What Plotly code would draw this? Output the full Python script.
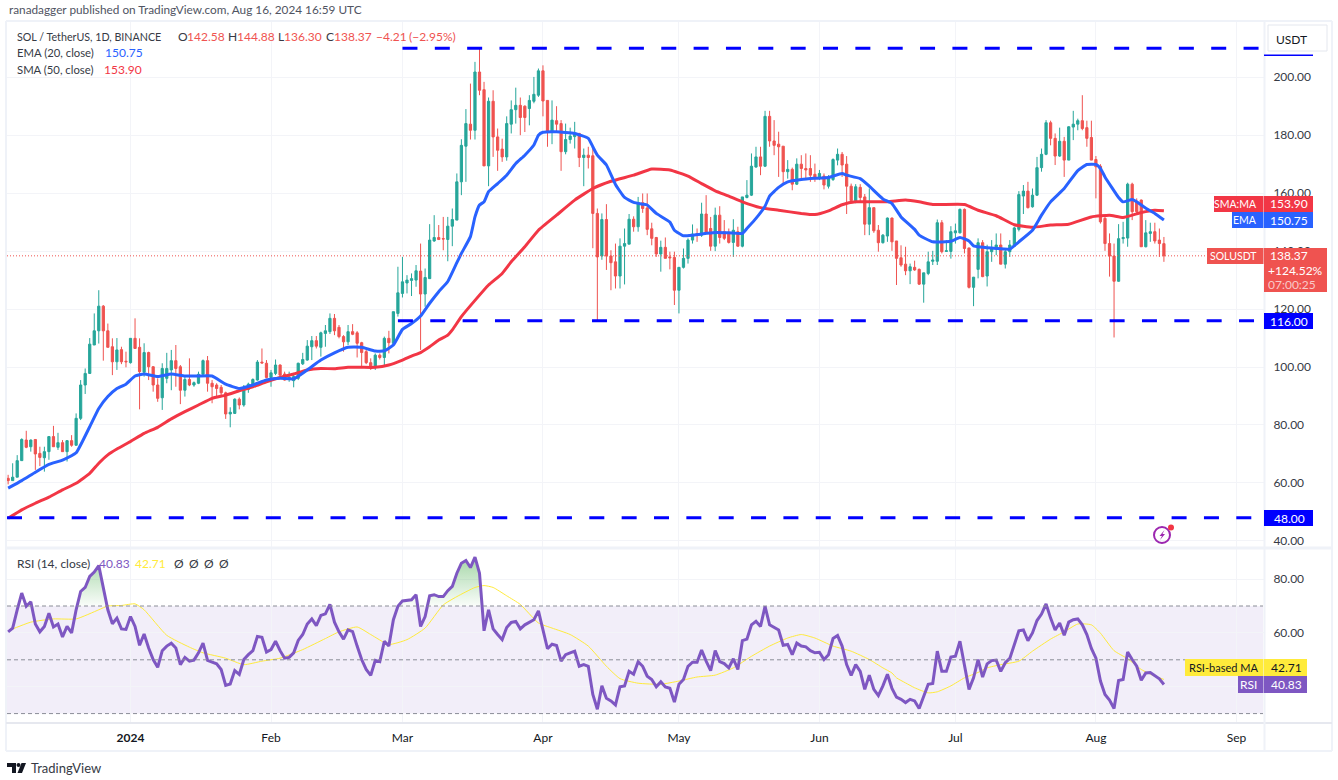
import pandas as pd
import plotly.graph_objects as go

W, H = 1338, 780
GREEN, RED = "#26a69a", "#ef5350"
BLUE, SMA_RED = "#2962ff", "#f23645"
PURPLE, YELLOW = "#7e57c2", "#ffeb3b"
LEVEL_BLUE = "#0000ff"
FONT = "Lato"

dates = pd.date_range("2023-12-05", "2024-08-16", freq="D")

opens = [61.6,60.8,62,67.7,74.8,72.5,75,70.2,68.7,70.8,
    76,72.3,73.9,70.8,74.6,73,82.3,93.8,97.8,107.6,
    112.5,121,112.5,107,101.8,106,102,101.5,109.9,106.8,
    98.2,105,100.1,93.8,89.4,96.1,99,102.2,100.1,92,
    95.7,93.8,94.4,97.5,102.2,94.4,93.8,93,91.1,83.8,
    84,88.9,86.9,92.3,93.8,95.5,101.7,101.3,96.4,97.8,
    100.7,97.6,96.1,95.3,96.1,101.1,102.4,107,109.1,106.8,
    111.6,112.2,116.8,113.7,110.5,108.7,112.2,111.8,108.4,105.3,
    101.5,99.9,104.1,103.3,109.9,108.2,118.5,125.4,129,129.9,
    130,133.1,125.2,130.5,143.5,144.7,144.3,144,148.6,150.7,
    163.9,176.2,183.8,181.7,201.8,195.7,169.4,191.7,179.4,175.2,
    172.5,183.8,188.8,190.3,190,189.2,191.7,193.8,202.2,192,
    181.1,185,184,174.3,178.5,179.5,180.6,172.3,173.1,172.9,
    153,138.3,150.9,138.3,136.3,131.4,141.7,142.4,151,148.4,
    156.7,154.9,147.7,144.7,139,141.3,138,137.8,126.5,134.4,
    137.5,143.8,146,145.5,152.8,147.8,141.7,152.4,146.7,146.3,
    143,146.7,141.7,158.5,159.3,169,172.5,169.3,186.5,178,
    176.9,176.2,167.4,168.2,163.1,170,168.5,168.5,166.5,165.4,
    165.9,162.4,164.7,171.4,173.4,170,162.4,157.4,162,158.7,
    149.3,155,147.2,142.9,145.2,151.4,143.5,137.7,135.5,133.2,
    134.4,133.7,128.6,132.3,136.5,136.5,149.8,139.9,139.9,146.3,
    146.3,154.4,141.1,127.5,133.7,142.9,131.4,139.8,141,142.1,
    135.5,139.8,141.7,147.5,159,160.7,155.3,159.3,168.8,173.4,
    184.3,178.9,172.8,177.9,171.4,182.8,183.8,185,182.6,179.2,
    171.6,169.3,151.3,142.6,138.3,129.6,144.3,144.5,163.1,157,
    157.6,141.5,146.1,146.7,143.8,142.58]
closes = [60.8,62,67.7,75,72.3,74.8,70,68.8,70.8,76,
    72.5,73.9,70.8,74.6,73,82.3,93.8,97.8,107.9,112.5,
    121,112.5,106.8,101.8,105.9,101.8,101.8,109.9,106.4,98.4,
    105,100.1,93.8,89.2,99.5,99.5,102.2,99.5,92,95.7,
    93.8,94.6,97.5,102.2,94.4,93.2,92.6,91.1,83.8,84.4,
    88.9,86.9,92.3,94.1,95.7,101.7,101.4,96.4,98,100.7,
    97.2,95.5,96.4,96.7,101.3,102.6,107.2,109.1,107.2,111.8,
    112.5,116.8,112.5,110.5,108.7,112.2,111.3,108.2,105,101.5,
    99.9,104.1,103.3,109.9,108.4,119.1,125.6,129.4,130,130.5,
    133.2,125.2,130.9,143.8,144.7,144,144.2,148.6,150.9,163.9,
    176.5,184,181.7,201.8,195.5,169.4,191.7,179.4,174.8,172.5,
    184,188.8,190.3,186.1,186.1,192,194.1,202.2,191.8,181,
    185.2,183.8,174.3,178.5,179.7,180.6,172.3,173.1,172.3,153,
    138,150.9,138.3,136,131.4,141.7,142.6,151,148.4,156.7,
    154.7,147.5,144.4,139,141.3,137.5,137.7,126.5,134.4,137.5,
    143.8,145.9,145.5,152.8,146.3,141.7,152.4,144.7,144.4,143,
    147.2,141.7,158.7,159.3,169.3,172.5,169.3,186.5,178,176.5,
    176,167.4,168.2,163.1,170,168.5,168,166.2,165,166.8,
    162.8,165,171.6,173.4,169.7,162.4,157.4,162.2,158.5,149.3,
    155,147,142.9,145.5,151.4,143.2,137.5,135.2,133.2,134.6,
    133.5,128.6,132.5,136.3,136.9,149.8,139.8,140.1,146.7,147,
    154.4,140.9,127.5,131,142.9,131.2,139.8,141.1,142.1,135.5,
    139.8,142.1,148,159.5,160.7,155,159.3,168.8,173.4,184.3,
    178.9,172.8,177.9,171.4,182.9,183.8,185,182.3,178.9,171.4,
    169.1,150.1,142.6,138.3,129.6,144.3,144.7,163.1,153.6,153.6,
    141.5,146.3,146.7,143.5,142.6,138.37]
highs = [62.8,66.8,69.6,75.4,78,75,75,72.5,72.5,76.2,
    79.7,77.3,74.8,74.8,76.5,84,95.5,99.5,110,118.5,
    126.5,121.4,115,109.9,110,107,105.3,109.9,116.8,109.9,
    108.2,105.3,100.3,96.1,101.3,104.9,105.9,107.6,100.7,96.7,
    103,95,98.4,102.6,103.8,95.5,94.4,93.8,91.5,86.1,
    89.2,89.5,93.8,94.6,96.1,102.4,106.4,102.4,99,102.6,
    100.9,98.4,98.4,97.8,101.5,104.9,109.3,110.7,110.7,112.2,
    114.5,118.5,118.3,114.5,111,114.5,114.8,112.4,108.7,106.8,
    103,104.7,104.7,110.5,112.5,119.1,134.6,138,131.7,132.3,
    135.2,142.6,134,149.3,152.4,149,151.8,151.8,154.7,166.8,
    178.6,189,197.8,205.3,209.9,198.4,193,195.5,182.3,178.8,
    186.5,192,196.4,193,190.3,193.8,200.1,203,204.1,192,
    192,190,185.2,184,182.6,184.6,180.8,175.4,176,175.7,
    154.7,153,156.2,140.3,142.6,144.4,147.8,152.8,152,158.7,
    159.9,159.9,149.8,144.9,143.6,144.7,139.8,139.8,134.4,140.9,
    144.4,149.2,147.8,156.7,159.3,151.8,155,155.5,150.7,147.8,
    151,148.4,158.7,164.5,173.7,176,176,188.4,188.4,185.2,
    181.2,176.2,171.4,168.8,172,173.1,173.7,173.1,170.2,168,
    166.8,166.2,172,175.4,174.2,172.8,163.3,163.1,163.1,159.7,
    161.6,155,149,145.9,151.6,151.6,143.5,142,141.5,135.7,
    136.7,134,132.5,139.8,140.1,150.9,150.7,143.8,148.6,149.5,
    154.7,154.7,141.1,131.1,144.4,143.8,142.2,143.8,146.1,146.1,
    141,143.8,148.4,160.7,162.8,163.9,161.6,172.5,175.4,185.2,
    185,180.6,182.6,179.4,183.1,188.4,185.7,193.8,185,185,
    172.8,170,152.4,146.1,142.6,149.3,150.1,163.6,163.6,158.2,
    157.8,150.7,149.8,149.8,147.8,144.88]
lows = [59.5,60.8,62,67.7,72,70.8,64.5,65.8,63.9,68,
    72.5,71.4,70.8,67.4,72.5,72.9,81.7,90.7,97.6,108,
    108.1,102.2,106.8,97.2,99,101,99.9,101.2,106.4,85.4,
    96.7,95.5,91.5,88,85.2,94.4,92,93.2,87.2,89.8,
    93.4,93.2,94.1,97.2,91.5,87.5,90,90.3,82.1,79.2,
    83.8,85.4,86.3,91.1,93.2,95.3,101.3,96.1,93.2,97.2,
    96.7,95.3,94.9,93,95.5,100.7,102.2,102.4,106.4,103.6,
    107,111.4,111,109.9,105.3,107.6,111,103.3,100.1,101,
    99,99,102.6,100.3,104.7,107.6,117.4,124,125.4,124.5,
    127.7,105.9,120.8,130.5,143.2,143.8,140.3,136.5,141.7,150.7,
    159.3,163.9,178.5,178.5,193.8,169.4,162.4,172.5,167.7,170.8,
    171.2,180.6,184,180,181.1,183.4,191,193.2,186.5,176,
    176.9,180.8,167.7,173.4,177.1,175.4,169,162.4,168.5,141,
    116.2,137,133.5,126.5,127.1,127.1,128.5,142.4,146.7,146.7,
    153.2,145.5,142,138,132.9,137.5,133.7,121.4,118.5,134,
    135.7,142.6,143.2,144.9,146.1,140.1,140,142.6,143.8,142.6,
    138,141.5,141.3,158.2,159,168.8,166.2,169,176,173.1,
    165.6,163.3,165,161,162.8,164.5,165,163.9,163.9,164.5,
    161.3,161.6,164.2,169.6,165.6,152.8,156.7,156.5,157,145.5,
    145.5,146.3,139.8,142.6,143.2,140.1,128.3,134.6,131.7,128.6,
    133.2,128.3,122.2,131.7,135.2,135.2,139.2,139.8,137.4,142.6,
    146.1,139.2,127.1,121,130.6,131,127.8,136.3,138.6,135.5,
    134,138,141.5,146.8,152.8,154.7,155,159,167.4,173.1,
    176.5,169.7,172.5,165.6,171.4,178.3,181.7,181.7,176,171.4,
    158.2,149.5,140.1,131.2,110.2,129.4,142.6,141.5,150.7,153,
    141.5,141.3,143.2,142.6,138,136.3]

# moving averages read at every few days (day number counted from the first candle)
ema_days = [0,3,6,9,12,15,18,20,22,24,26,28,30,33,36,39,42,45,48,51,54,57,60,63,66,69,72,75,78,81,83,85,87,89,91,93,95,97,99,100,102,103,104,105,106,108,110,112,114,116,117,118,121,125,128,129,130,132,134,136,138,140,141,143,146,147,149,151,153,156,159,162,163,165,167,168,170,172,175,178,181,184,185,188,190,193,195,197,200,201,204,208,210,212,213,218,221,223,226,228,230,233,236,238,240,241,242,245,246,248,249,251,253,255]
ema_vals = [58.2,60.8,63.7,66.4,67.9,70.4,79.4,85.7,89.8,92.6,94.1,96.9,97.6,96.7,97.6,96.9,96.9,96.9,94.1,92.6,93.8,95.5,96.1,95.9,99,102.4,104.9,106.8,106.8,105.5,105.6,107.6,113,115,117.6,122,126,129.5,136,139.2,145,151.8,155.9,157,160.5,163.3,166.2,170.2,173.1,176.6,180,181,181.2,180.6,178.9,176,173.1,169.7,163,158.5,156.8,156.2,155.9,153,150,147.2,145.3,145.5,145.9,146.4,146.3,146.1,147.8,151.3,155.5,159,162,163.9,164.7,165.1,165.4,166.8,166.2,165,162.4,158,156.4,151.8,147.5,145.5,143.2,143.4,144.7,143.5,141.8,140.9,140.7,143.2,147.2,152.4,157,161.6,167.8,169.9,169.9,168.5,165.6,158.5,157,157.8,157,154.8,153,150.75]
sma_days = [0,3,6,9,12,15,18,20,22,24,27,30,33,36,39,42,45,48,51,54,57,60,63,66,69,72,75,78,81,84,87,89,91,93,95,97,98,100,103,106,109,111,114,117,121,125,129,133,138,142,146,150,153,156,159,162,166,170,175,178,181,184,187,194,198,201,204,211,214,218,222,226,230,234,239,243,246,250,253,255]
sma_vals = [47.8,50.7,53,55.1,57.6,59.9,63.3,66.8,69.7,71.7,74.3,77.1,79.2,82.1,84.6,86.9,89.2,90.3,91.8,93.2,94.9,96.4,97.6,99,99.5,99.4,99.9,99.9,99.9,100.7,102.4,103.8,105,107,109.3,111,112.8,117.4,123,128.3,132.3,136.3,141.5,147.2,152.4,157.6,161.6,164.1,166.2,168.3,168,165.9,163.3,160.8,159,157,155,154.1,153,152.6,153.9,156,157,157,157.6,157,156.1,156.1,154.1,152.2,149.1,148.2,149,149.3,151.8,152.4,151.6,153.3,154.1,153.9]

rsi_vals = [60.4,61.8,68.6,74.8,69.9,71.6,63.3,60.4,62.4,67.3,
    62.2,63.3,58.5,62.4,60,68.6,75.4,76.9,81,82.6,
    85,76.1,68.6,63.4,65.5,61.5,61.3,66.1,62.4,55.4,
    59.6,54.4,50.1,47.2,53.4,55.1,56.2,54.4,48.2,50.9,
    49.5,49.9,52.6,56.2,49.8,49.1,48.5,46.4,40.5,41,
    46,44.6,50.1,51.9,53.4,58.7,58.4,52.9,53.8,56.9,
    53.4,50.6,50.9,52.6,57.2,59.4,63.3,65.2,62.7,66.5,
    67.1,70.6,64,60.4,57.7,61.1,60.5,55.1,50.1,46.4,
    44.2,49.8,49.3,56.9,55.1,64.9,69.9,71.9,72.2,72.3,
    74.2,62.4,66.1,73.8,74.2,73.5,73.5,75.7,77.3,82.2,
    85.9,86.9,84.3,88.2,82.2,60.8,68.6,61.5,59.4,57.5,
    62,63.9,64.3,61.5,63,64,64.9,68.2,61.1,54.1,
    55.8,55.3,49.5,51.9,52.6,53.2,47.6,48.2,47.6,37.1,
    31.6,40.3,35.7,34.7,33.2,40,40.3,45.7,44.6,49.3,
    47.6,43.9,42.7,40,41.8,39.9,39.4,34.3,40.9,42.7,
    47.6,49.1,49.1,53.6,49.5,46,53.4,49.3,48.6,47,
    50.4,46.4,57.1,57.7,63,64.3,62.4,69.9,63,62,
    61.1,55.4,55.7,51.9,56.2,55.1,54.8,53.4,52.6,52.8,
    50.1,51.9,57.9,59,55.1,48.2,44.2,48.2,45.7,39,
    44.3,39,36.7,40.3,44.6,39.4,36.1,35.3,34.1,35.3,
    34.7,31.9,36.5,40.9,41.2,53.2,45.7,45.7,51,51.3,
    56.9,48.2,39,43.3,50.1,43.6,48.5,49.7,49.9,45.7,
    48.9,50.5,55.7,60.8,61.1,57.1,60,64.6,67,70.8,
    65.5,61.1,63.7,59.1,64,64.9,65.2,63,59.4,54.2,
    50.6,42.1,37.1,35,31.9,42.3,42.7,52.9,50.1,47.6,
    42.4,45.1,45.3,44.2,42.9,40.83]
rsi_ma_days = [0,5,10,15,20,22,25,28,30,35,40,43,48,52,56,60,65,70,73,77,80,84,88,92,96,99,103,105,107,110,113,117,120,124,128,132,135,139,144,148,152,156,160,164,168,172,175,178,182,186,190,193,195,196,198,200,203,205,208,211,214,216,219,223,226,230,233,236,239,241,244,247,250,253,255]
rsi_ma_vals = [60.8,64,65.2,65.2,68.6,70,70.2,70.8,68.6,59.1,54.7,52.6,50.6,48.2,49.5,50.6,53.8,57.9,60.4,62.2,59.4,55.7,57.5,61.8,70.4,73.5,76.9,77.6,76.9,73.8,70.6,63.7,61.8,59.4,55.1,47.6,43,41.3,40.9,42.1,43.6,44.3,47,51.3,55.1,58.1,59.4,58.1,55.1,53.2,50.1,47,45.1,43.3,41.4,39.6,37.7,38.1,40.3,43.3,45.3,47,48.2,49.5,53.2,57.7,60.4,63.3,63,59.9,53.4,50.4,46.4,43.9,42.71]

levels = [210, 116, 48]
level_starts = ["2024-03-01", "2024-02-29", "2023-12-04 18:00"]
last_close = 138.37
price_ticks = [40, 60, 80, 100, 120, 140, 160, 180, 200]
rsi_ticks = [40, 60, 80]
month_ticks = ["2024-01-01", "2024-02-01", "2024-03-01", "2024-04-01", "2024-05-01",
               "2024-06-01", "2024-07-01", "2024-08-01", "2024-09-01"]
month_labels = ["<b>2024</b>", "Feb", "Mar", "Apr", "May", "Jun", "Jul", "Aug", "Sep"]
x_range = ["2023-12-04 18:00", "2024-09-07 02:00"]


def px(x):
    return x / W


def py(y):
    return 1 - y / H


def pick(days):
    return [dates[d] for d in days]


fig = go.Figure()
fig.add_trace(go.Candlestick(
    x=dates, open=opens, high=highs, low=lows, close=closes,
    increasing=dict(line=dict(color=GREEN, width=1), fillcolor=GREEN),
    decreasing=dict(line=dict(color=RED, width=1), fillcolor=RED),
    whiskerwidth=0, showlegend=False, hoverinfo="skip", xaxis="x", yaxis="y"))
fig.add_trace(go.Scatter(x=pick(sma_days), y=sma_vals, mode="lines",
                         line=dict(color=SMA_RED, width=3, shape="spline", smoothing=0.4),
                         showlegend=False, xaxis="x", yaxis="y"))
fig.add_trace(go.Scatter(x=pick(ema_days), y=ema_vals, mode="lines",
                         line=dict(color=BLUE, width=3, shape="spline", smoothing=0.4),
                         showlegend=False, xaxis="x", yaxis="y"))
for lvl, start in zip(levels, level_starts):
    fig.add_trace(go.Scatter(x=[start, x_range[1]], y=[lvl, lvl], mode="lines",
                             line=dict(color=LEVEL_BLUE, width=3, dash="15px,17.35px"),
                             showlegend=False, xaxis="x", yaxis="y"))
fig.add_trace(go.Scatter(x=x_range, y=[last_close, last_close], mode="lines",
                         line=dict(color=RED, width=1, dash="1px,2px"),
                         showlegend=False, xaxis="x", yaxis="y"))

# green overbought zones above the 70 line
for a, b in [(16, 22), (86, 91), (93, 105)]:
    fig.add_trace(go.Scatter(
        x=pick([a - 1] + list(range(a, b)) + [b]),
        y=[70] + rsi_vals[a:b] + [70], mode="lines", fill="toself",
        line=dict(width=0),
        fillgradient=dict(type="vertical", start=70, stop=88,
                          colorscale=[[0, "rgba(76,175,80,0.03)"], [1, "rgba(76,175,80,0.5)"]]),
        showlegend=False, xaxis="x", yaxis="y2"))
fig.add_trace(go.Scatter(x=pick(rsi_ma_days), y=rsi_ma_vals, mode="lines",
                         line=dict(color=YELLOW, width=1, shape="spline", smoothing=0.5),
                         showlegend=False, xaxis="x", yaxis="y2"))
fig.add_trace(go.Scatter(x=dates, y=rsi_vals, mode="lines",
                         line=dict(color=PURPLE, width=3),
                         showlegend=False, xaxis="x", yaxis="y2"))

shapes = []


def box(x0, y0, x1, y1, color):
    shapes.append(dict(type="rect", xref="paper", yref="paper", x0=px(x0), x1=px(x1),
                       y0=py(y1), y1=py(y0), fillcolor=color, line_width=0, layer="above"))


def rule(x0, y0, x1, y1, color, width):
    shapes.append(dict(type="line", xref="paper", yref="paper", x0=px(x0), x1=px(x1),
                       y0=py(y0), y1=py(y1), line=dict(color=color, width=width), layer="above"))


def pixel_path(points, color):
    d = "M" + " L".join(f"{px(a):.5f},{py(b):.5f}" for a, b in points) + " Z"
    shapes.append(dict(type="path", xref="paper", yref="paper", path=d,
                       fillcolor=color, line_width=0, layer="above"))


def circle(cx, cy, r, fill, line_color=None, line_width=0):
    shapes.append(dict(type="circle", xref="paper", yref="paper",
                       x0=px(cx - r), x1=px(cx + r), y0=py(cy + r), y1=py(cy - r),
                       fillcolor=fill, line=dict(color=line_color or fill, width=line_width),
                       layer="above"))


# rsi band and its dashed limits
shapes.append(dict(type="rect", xref="paper", yref="y2", x0=px(7), x1=px(1263), y0=30, y1=70,
                   fillcolor="rgba(126,87,194,0.1)", line_width=0, layer="below"))
for lim in [70, 50, 30]:
    shapes.append(dict(type="line", xref="paper", yref="y2", x0=px(7), x1=px(1263), y0=lim, y1=lim,
                       line=dict(color="#8a8d97", width=1, dash="4px,3px"), layer="above"))

# frame
FRAME = "#eff2f8"
rule(6, 21, 1332, 21, FRAME, 2)
rule(6, 751, 1332, 751, FRAME, 2)
rule(6, 21, 6, 751, FRAME, 2)
rule(1332, 21, 1332, 751, FRAME, 2)
rule(6, 548, 1332, 548, FRAME, 3)
rule(6, 723, 1332, 723, "#e6e8ef", 2)
rule(1264.5, 21, 1264.5, 751, FRAME, 2)

# usdt button
shapes.append(dict(type="rect", xref="paper", yref="paper", x0=px(1268), x1=px(1327),
                   y0=py(51), y1=py(25), fillcolor="white",
                   line=dict(color="#e4e7ee", width=1), layer="above"))
box(1264, 54.5, 1313, 56, LEVEL_BLUE)

# price scale labels
box(1214, 196, 1263.5, 212, SMA_RED)
box(1264, 196, 1313, 212, SMA_RED)
box(1232, 212, 1263.5, 228, BLUE)
box(1264, 212, 1313, 228, BLUE)
box(1207, 248, 1263.5, 264, RED)
box(1264, 248, 1327, 292, RED)
box(1264, 313, 1313, 329, LEVEL_BLUE)
box(1264, 510, 1313, 526, LEVEL_BLUE)
box(1185, 659, 1263.5, 676, YELLOW)
box(1264, 659, 1307, 676, YELLOW)
box(1238, 676, 1263.5, 693, PURPLE)
box(1264, 676, 1307, 693, PURPLE)

# lightning badge
circle(1162, 535, 8, "rgba(0,0,0,0)", "#9c27b0", 2)
pixel_path([(1164.5, 530), (1159.5, 536), (1162, 536), (1160, 540), (1165, 534), (1162.5, 534)], "#9c27b0")
circle(1171, 527.5, 3, SMA_RED)

# tradingview logo
pixel_path([(7, 763), (16, 763), (16, 773), (12, 773), (12, 767), (7, 767)], "#131722")
circle(18.5, 765, 2, "#131722")
pixel_path([(26, 763), (22, 773), (17.5, 773), (21.5, 763)], "#131722")


def label(x, y, text, color="#363a45", size=12, anchor="left"):
    return dict(xref="paper", yref="paper", x=px(x), y=py(y), text=text, showarrow=False,
                xanchor=anchor, yanchor="middle", align=anchor,
                font=dict(family=FONT, size=size, color=color))


annotations = [
    label(7, 10, "ranadagger published on TradingView.com, Aug 16, 2024 16:59 UTC", "#505462", size=11.8),
    label(15, 36, "SOL / TetherUS, 1D, BINANCE", size=10.7),
    label(176, 36, "O"), label(185, 36, "142.58", RED),
    label(226, 36, "H"), label(235, 36, "144.88", RED),
    label(276, 36, "L"), label(282, 36, "136.30", RED),
    label(324, 36, "C"), label(332, 36, "138.37", RED),
    label(374, 36, "\u22124.21", RED), label(407, 36, "(\u22122.95%)", RED),
    label(15, 53, "EMA (20, close)", size=11.3), label(103, 53, "150.75", BLUE),
    label(15, 69, "SMA (50, close)", size=11.3), label(102, 69, "153.90", SMA_RED),
    label(15, 563, "RSI (14, close)"), label(97, 563, "40.83", PURPLE), label(133, 563, "42.71", YELLOW),
    label(172, 563, "\u00d8"), label(187, 563, "\u00d8"), label(202, 563, "\u00d8"), label(217, 563, "\u00d8"),
    label(1291, 39, "USDT", "#131722", anchor="center"),
    label(1259, 204, "SMA:MA", "white", size=10.5, anchor="right"), label(1289, 204, "153.90", "white", anchor="center"),
    label(1259, 220, "EMA", "white", size=10.5, anchor="right"), label(1289, 220, "150.75", "white", anchor="center"),
    label(1259, 256, "SOLUSDT", "white", size=10.5, anchor="right"), label(1289, 256, "138.37", "white", anchor="center"),
    label(1295, 270, "+124.52%", "white", anchor="center"),
    label(1292, 284, "07:00:25", "#f9c9c8", anchor="center"),
    label(1289, 321, "116.00", "white", anchor="center"),
    label(1289, 518, "48.00", "white", anchor="center"),
    label(1260, 667.5, "RSI-based MA", "#131722", size=11, anchor="right"),
    label(1286, 667.5, "42.71", "#131722", anchor="center"),
    label(1259, 684.5, "RSI", "white", anchor="right"),
    label(1286, 684.5, "40.83", "white", anchor="center"),
    label(29, 768, "TradingView", "#363a45", size=13),
]

GRID = "#f3f4f8"
fig.update_layout(
    width=W, height=H, margin=dict(l=0, r=0, t=0, b=0, pad=0),
    paper_bgcolor="white", plot_bgcolor="white", showlegend=False,
    font=dict(family=FONT, size=12, color="#363a45"),
    shapes=shapes, annotations=annotations,
    xaxis=dict(domain=[px(7), px(1264)], range=x_range, anchor="y2", rangeslider=dict(visible=False),
               tickmode="array", tickvals=month_ticks, ticktext=month_labels,
               showgrid=True, gridcolor=GRID, gridwidth=1, zeroline=False, showline=False,
               ticks="outside", ticklen=4, tickcolor="rgba(0,0,0,0)", automargin=False,
               tickfont=dict(family=FONT, size=12, color="#131722")),
    yaxis=dict(domain=[py(547), py(21)], range=[37.9, 219.4], side="right", anchor="x",
               tickmode="array", tickvals=price_ticks, tickformat=".2f",
               showgrid=True, gridcolor=GRID, gridwidth=1, zeroline=False, showline=False,
               ticks="outside", ticklen=6, tickcolor="rgba(0,0,0,0)", automargin=False,
               tickfont=dict(family=FONT, size=12, color="#363a45")),
    yaxis2=dict(domain=[py(723), py(549)], range=[26.5, 91.2], side="right", anchor="x",
                tickmode="array", tickvals=rsi_ticks, tickformat=".2f",
                showgrid=True, gridcolor=GRID, gridwidth=1, zeroline=False, showline=False,
                ticks="outside", ticklen=6, tickcolor="rgba(0,0,0,0)", automargin=False,
                tickfont=dict(family=FONT, size=12, color="#363a45")),
)

fig.write_html("out.html", post_script="document.body.style.margin='0';",
               config=dict(displayModeBar=False))
